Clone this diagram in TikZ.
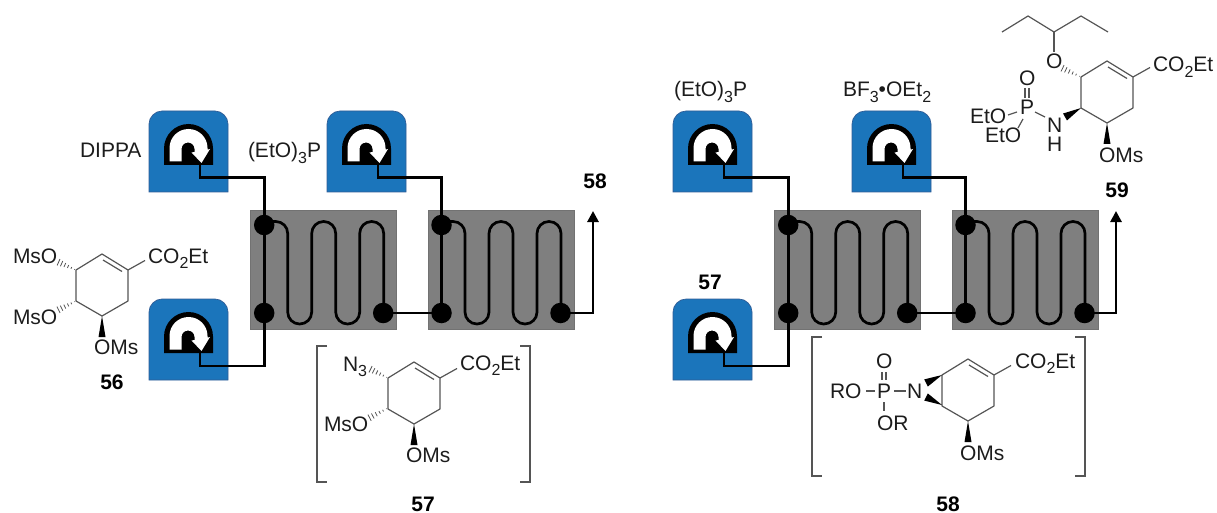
\documentclass[tikz,border=0pt]{standalone}
\usepackage{fontspec}
\setmainfont{Liberation Sans}
\usetikzlibrary{calc,arrows.meta}
\definecolor{pumpblue}{RGB}{27,117,187}
\definecolor{pumpedge}{RGB}{47,92,150}
\definecolor{reactorgrey}{RGB}{127,127,127}
\definecolor{bondgrey}{RGB}{85,85,85}
\definecolor{inkdark}{RGB}{28,28,28}
\tikzset{
  txt/.style={anchor=base west,inner sep=0pt,outer sep=0pt,text=inkdark,font=\fontsize{21}{24}\selectfont},
  num/.style={anchor=base,inner sep=0pt,outer sep=0pt,text=black,font=\fontsize{21}{24}\selectfont\bfseries},
  bond/.style={draw=bondgrey,line width=1.2pt},
  wire/.style={draw=black,line width=2.7pt},
  portdot/.style={circle,fill=black,minimum size=20.5pt,inner sep=0pt,outer sep=0pt},
  reactorbox/.style={fill=reactorgrey,draw=reactorgrey!90!black,line width=0.6pt},
  outarrow/.style={wire,-{Triangle[width=11pt,length=11pt]}},
}
\newcommand\subn[1]{\raisebox{-0.24em}{\fontsize{16}{16}\selectfont #1}}
% pump: name, x, y of top-left corner
\newcommand\pump[3]{%
  \begin{scope}[shift={(#2,#3)}]
    \fill[pumpblue] (0,81) -- (0,13) .. controls (0,6) and (6,0) .. (13,0) -- (66,0) .. controls (73,0) and (79,6) .. (79,13) -- (79,81) -- cycle;
    \draw[pumpedge,line width=0.7pt] (0,81) -- (0,13) .. controls (0,6) and (6,0) .. (13,0) -- (66,0) .. controls (73,0) and (79,6) .. (79,13) -- (79,81) -- cycle;
    \fill[black] (15,54) -- (15,37.5) .. controls (15,24) and (26,13) .. (39.5,13) .. controls (53,13) and (64,24) .. (64,37.5) -- (64,54) -- cycle;
    \fill[white] (20.5,50.5) -- (20.5,37) .. controls (20.5,26.5) and (29,18) .. (39.5,18) .. controls (50,18) and (58.5,26.5) .. (58.5,37) -- (58.8,38.6) -- (61,38) -- (52.5,52) -- (42.5,41.5) -- (45.5,41) -- (45.5,38) .. controls (45.5,34.4) and (42.6,31.5) .. (39,31.5) .. controls (35.4,31.5) and (32.5,34.4) .. (32.5,38) -- (32.5,50.5) -- cycle;
    \coordinate (#1) at (51,54);
  \end{scope}}
% reactor: name, x of left edge
\newcommand\reactor[2]{%
  \begin{scope}[shift={(#2,0)}]
    \fill[reactorbox] (0,210.7) rectangle (146,329);
    \draw[wire,rounded corners=11.9pt] (13.5,221.5) -- (37,221.5) -- (37,324) -- (61,324) -- (61,221.5) -- (85,221.5) -- (85,324) -- (109,324) -- (109,221.5) -- (133,221.5) -- (133,313);
    \node[portdot] (#1t) at (13.5,225) {};
    \node[portdot] (#1b) at (13.5,313) {};
    \node[portdot] (#1o) at (132.5,313) {};
    \draw[wire] (#1t.center) -- (#1b.center);
  \end{scope}}
% ring: x,y of the upper-left ring carbon; draws ring, C=C, ester bond, wedge to OMs
\newcommand\ringb[2]{%
  \begin{scope}[shift={(#1,#2)}]
    \draw[bond,line join=round] (0,0) -- (26,-16) -- (52,0) -- (52,31) -- (26,46) -- (0,31) -- cycle;
    \draw[bond] (27,-10) -- (46,1.5);
    \draw[bond] (52,0) -- (69,-9.5);
    \fill[black] (26,46) -- (29.5,67) -- (22.5,67) -- cycle;
  \end{scope}}
\newcommand\hashb[2]{%
  \foreach \t [evaluate=\t as \w using \t*3.6] in {0.08,0.26,0.44,0.62,0.80,0.97}
    \draw[draw=bondgrey,line width=0.8pt] ($(#1)!\t!(#2)!\w pt!90:(#2)$) -- ($(#1)!\t!(#2)!\w pt!-90:(#2)$);}
\newcommand\wedgeb[2]{%
  \fill[black] (#1) -- ($(#2)!4pt!90:(#1)$) -- ($(#2)!4pt!-90:(#1)$) -- cycle;}
\begin{document}
\begin{tikzpicture}[x=1pt,y=-1pt]
\useasboundingbox (0,0) rectangle (1217,513);
% reactors
\reactor{ra}{250.7}
\reactor{rb}{428}
\reactor{rc}{774.7}
\reactor{rd}{952}
% pumps
\pump{pa}{149}{111}
\pump{pb}{327}{111}
\pump{pc}{149}{299}
\pump{pd}{673}{111}
\pump{pe}{852}{111}
\pump{pf}{673}{299}
% connectors
\draw[wire] (pa) -- ($(pa)+(0,12.5)$) -| (rat.center);
\draw[wire] (pb) -- ($(pb)+(0,12.5)$) -| (rbt.center);
\draw[wire] (pc) -- ($(pc)+(0,13)$) -| (rab.center);
\draw[wire] (pd) -- ($(pd)+(0,12.5)$) -| (rct.center);
\draw[wire] (pe) -- ($(pe)+(0,12.5)$) -| (rdt.center);
\draw[wire] (pf) -- ($(pf)+(0,13)$) -| (rcb.center);
\draw[wire] (rao.center) -- (rbb.center);
\draw[wire] (rco.center) -- (rdb.center);
\coordinate (enda) at (593,211);
\coordinate (endb) at (1116,211);
\draw[outarrow] (rbo.center) -| (enda);
\draw[outarrow] (rdo.center) -| (endb);
% reagent labels
\node[txt] (tdippa) at (80,158) {DIPPA};
\node[txt] (tpa) at (248,158) {(EtO)\subn{3}P};
\node[txt] (tpb) at (674,97) {(EtO)\subn{3}P};
\node[txt] (tbf) at (843,97) {BF\subn{3}•OEt\subn{2}};
% numbers
\node[num] (n58a) at (595,189) {58};
\node[num] (n57a) at (710,289) {57};
\node[num] (n59) at (1117,197) {59};
\node[num] (n56) at (112,389) {56};
\node[num] (n57b) at (423,511) {57};
\node[num] (n58b) at (948,511) {58};
% compound 56
\ringb{76}{270}
\coordinate (h1a) at (76,270); \coordinate (h1b) at (58,262);
\coordinate (h2a) at (76,301); \coordinate (h2b) at (58,310);
\hashb{h1a}{h1b}
\hashb{h2a}{h2b}
\node[txt] (m56a) at (13,263) {MsO};
\node[txt] (m56b) at (13,324) {MsO};
\node[txt] (m56c) at (94,354) {OMs};
\node[txt] (m56d) at (148,263) {CO\subn{2}Et};
% compound 57
\ringb{388}{378}
\coordinate (h3a) at (388,378); \coordinate (h3b) at (370,369);
\coordinate (h4a) at (388,408); \coordinate (h4b) at (369,418);
\hashb{h3a}{h3b}
\hashb{h4a}{h4b}
\node[txt] (m57a) at (343,371) {N\subn{3}};
\node[txt] (m57b) at (324,431) {MsO};
\node[txt] (m57c) at (406,462) {OMs};
\node[txt] (m57d) at (460,370) {CO\subn{2}Et};
\draw[bond] (327,346) -- (317,346) -- (317,482) -- (327,482);
\draw[bond] (520,346) -- (530,346) -- (530,482) -- (520,482);
% compound 58
\ringb{942}{375}
\coordinate (w1a) at (942,375); \coordinate (w1b) at (926,383);
\coordinate (w2a) at (942,405); \coordinate (w2b) at (926,397);
\wedgeb{w1a}{w1b}
\wedgeb{w2a}{w2b}
\node[txt] (m58n) at (907,398) {N};
\node[txt] (m58p) at (877,398) {P};
\node[txt] (m58o) at (876,368) {O};
\node[txt] (m58ro) at (830,398) {RO};
\node[txt] (m58or) at (877,430) {OR};
\node[txt] (m58c) at (960,460) {OMs};
\node[txt] (m58d) at (1015,368) {CO\subn{2}Et};
\draw[bond] (866,391) -- (875,391);
\draw[bond] (894,391) -- (906,391);
\draw[bond] (882,372) -- (882,380);
\draw[bond] (886,372) -- (886,380);
\draw[bond] (884,402) -- (884,411);
\draw[bond] (822,337) -- (812,337) -- (812,476) -- (822,476);
\draw[bond] (1075,337) -- (1085,337) -- (1085,476) -- (1075,476);
% compound 59
\ringb{1081}{77}
\coordinate (h5a) at (1081,77); \coordinate (h5b) at (1062,68);
\hashb{h5a}{h5b}
\coordinate (w3a) at (1081,108); \coordinate (w3b) at (1065,117);
\wedgeb{w3a}{w3b}
\node[txt] (m59o) at (1046,69) {O};
\node[txt] (m59n) at (1047,133) {N};
\node[txt] (m59h) at (1047,151.5) {H};
\node[txt] (m59p) at (1020,115) {P};
\node[txt] (m59po) at (1019,86) {O};
\node[txt] (m59e1) at (970,124) {EtO};
\node[txt] (m59e2) at (985,143) {EtO};
\node[txt] (m59c) at (1099,163) {OMs};
\node[txt] (m59d) at (1153,72) {CO\subn{2}Et};
\draw[bond,line join=round] (1002,32) -- (1028,16) -- (1054,32) -- (1081,16) -- (1108,32);
\draw[bond] (1054,32) -- (1054,52);
\draw[bond] (1025,88) -- (1025,98);
\draw[bond] (1029,88) -- (1029,98);
\draw[bond] (1035,112) -- (1045,117);
\draw[bond] (1008,115) -- (1017,112);
\draw[bond] (1018,128) -- (1023,119);
\end{tikzpicture}
\end{document}
